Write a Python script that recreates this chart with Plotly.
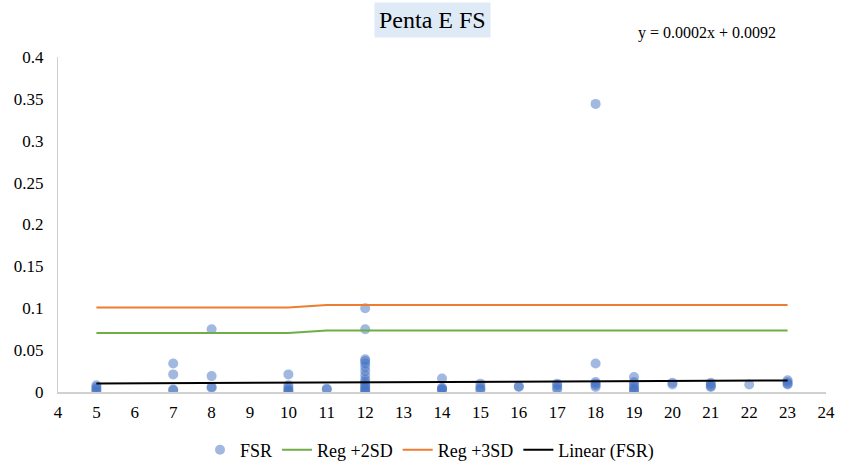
import plotly.graph_objects as go

# FSR scatter data (x, y)
fsr_x = [5, 5, 5, 5, 5,
         7, 7, 7, 7,
         8, 8, 8, 8,
         10, 10, 10, 10, 10, 10,
         11, 11,
         12, 12, 12, 12, 12, 12, 12, 12, 12, 12, 12, 12, 12, 12, 12, 12,
         14, 14, 14, 14, 14,
         15, 15, 15, 15,
         16, 16,
         17, 17, 17, 17,
         18, 18, 18, 18, 18, 18,
         19, 19, 19, 19, 19, 19, 19,
         20, 20,
         21, 21, 21, 21,
         22,
         23, 23, 23, 23]
fsr_y = [0.0, 0.002, 0.004, 0.006, 0.008,
         0.034, 0.021, 0.003, 0.002,
         0.075, 0.019, 0.006, 0.005,
         0.021, 0.008, 0.005, 0.003, 0.001, 0.0,
         0.004, 0.003,
         0.100, 0.075, 0.039, 0.037, 0.034, 0.030, 0.025, 0.020, 0.015, 0.012, 0.009, 0.007, 0.005, 0.003, 0.001, 0.0,
         0.016, 0.005, 0.004, 0.003, 0.002,
         0.010, 0.006, 0.004, 0.002,
         0.007, 0.006,
         0.010, 0.008, 0.005, 0.003,
         0.344, 0.034, 0.012, 0.010, 0.008, 0.006,
         0.018, 0.012, 0.009, 0.006, 0.004, 0.002, 0.001,
         0.011, 0.009,
         0.011, 0.009, 0.007, 0.006,
         0.009,
         0.014, 0.012, 0.010, 0.009]

# Regression band lines
reg_x = [5, 7, 8, 10, 11, 12, 14, 15, 16, 17, 18, 19, 20, 21, 22, 23]
reg2_y = [0.0705, 0.0705, 0.0705, 0.0705, 0.0735, 0.0735, 0.0735, 0.0735,
          0.0735, 0.0735, 0.0735, 0.0735, 0.0735, 0.0735, 0.0735, 0.0735]
reg3_y = [0.101, 0.101, 0.101, 0.101, 0.104, 0.104, 0.104, 0.104,
          0.104, 0.104, 0.104, 0.104, 0.104, 0.104, 0.104, 0.104]

# Linear trend y = 0.0002x + 0.0092
trend_slope = 0.0002
trend_intercept = 0.0092
trend_x = [5, 23]
trend_y = [trend_slope * v + trend_intercept for v in trend_x]

y_ticks = [0, 0.05, 0.1, 0.15, 0.2, 0.25, 0.3, 0.35, 0.4]
y_tick_text = ["0", "0.05", "0.1", "0.15", "0.2", "0.25", "0.3", "0.35", "0.4"]
x_ticks = list(range(4, 25))

FONT = "Liberation Serif"

fig = go.Figure()
fig.add_trace(go.Scatter(x=fsr_x, y=fsr_y, mode="markers", name="FSR",
                         marker=dict(color="rgba(68,114,196,0.5)", size=10,
                                     line=dict(width=0))))
fig.add_trace(go.Scatter(x=reg_x, y=reg2_y, mode="lines", name="Reg +2SD",
                         line=dict(color="#70AD47", width=2)))
fig.add_trace(go.Scatter(x=reg_x, y=reg3_y, mode="lines", name="Reg +3SD",
                         line=dict(color="#ED7D31", width=2)))
fig.add_trace(go.Scatter(x=trend_x, y=trend_y, mode="lines", name="Linear (FSR)",
                         line=dict(color="black", width=2)))

fig.update_layout(
    width=859, height=464,
    margin=dict(l=58, r=33, t=57, b=72, autoexpand=False),
    paper_bgcolor="white", plot_bgcolor="white",
    font=dict(family=FONT, size=15, color="#000000"),
    showlegend=True,
    legend=dict(orientation="h", x=0.5, xanchor="center", xref="container",
                y=1 - 450 / 464, yanchor="middle", yref="container",
                font=dict(family=FONT, size=18, color="#000000"),
                itemwidth=30, tracegroupgap=0),
    xaxis=dict(range=[4, 24], tickvals=x_ticks, showgrid=False, zeroline=False,
               showline=True, linecolor="#D0D0D0", linewidth=2, ticks="",
               ticklabelstandoff=4,
               tickfont=dict(family=FONT, size=17, color="#000000")),
    yaxis=dict(range=[0, 0.4], tickvals=y_ticks, ticktext=y_tick_text, showgrid=False,
               zeroline=False, showline=True, linecolor="#D0D0D0", linewidth=1,
               ticks="", ticklabelstandoff=10,
               tickfont=dict(family=FONT, size=17, color="#000000")),
    annotations=[
        dict(text="Penta E FS", xref="paper", yref="paper", x=(432 - 58) / 768, y=1.0,
             yshift=37, xanchor="center", yanchor="middle", showarrow=False,
             bgcolor="#DEEAF6", borderpad=4,
             font=dict(family=FONT, size=24, color="#000000")),
        dict(text="y = 0.0002x + 0.0092", xref="paper", yref="paper",
             x=(707 - 58) / 768, y=1.0, yshift=24, xanchor="center", yanchor="middle",
             showarrow=False, font=dict(family=FONT, size=16, color="#000000")),
    ],
)

fig.write_html("out.html")
